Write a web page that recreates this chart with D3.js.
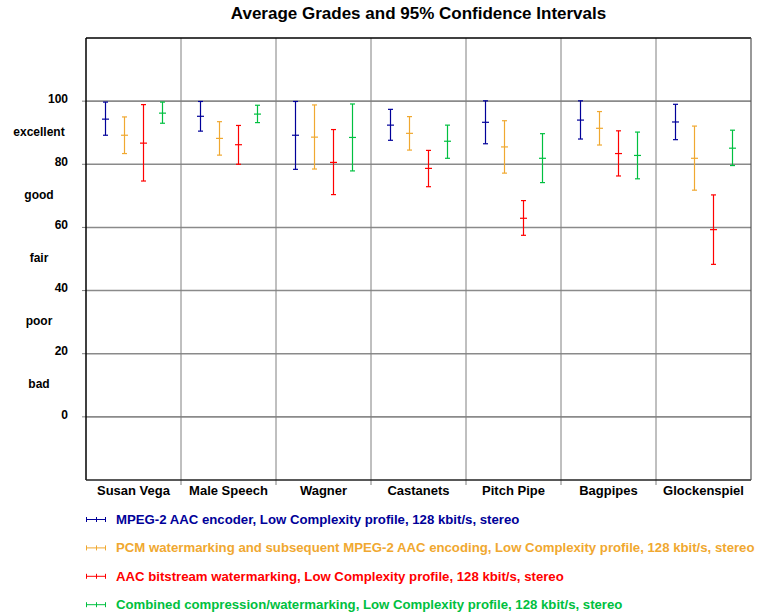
<!DOCTYPE html>
<html><head><meta charset="utf-8">
<script src="https://cdn.jsdelivr.net/npm/d3@7"></script>
<style>body{margin:0;background:#fff;} svg{display:block;}</style>
</head><body>
<svg id="c" width="760" height="612"></svg>
<script>
const categories = ["Susan Vega","Male Speech","Wagner","Castanets","Pitch Pipe","Bagpipes","Glockenspiel"];
const seriesNames = [
  "MPEG-2 AAC encoder, Low Complexity profile, 128 kbit/s, stereo",
  "PCM watermarking and subsequent MPEG-2 AAC encoding, Low Complexity profile, 128 kbit/s, stereo",
  "AAC bitstream watermarking, Low Complexity profile, 128 kbit/s, stereo",
  "Combined compression/watermarking, Low Complexity profile, 128 kbit/s, stereo"
];
const seriesColors = ["#000099","#F0A830","#FF0000","#00C040"];
// [low, mean, high] per category
const aacEncoder = [[89.2,94.3,99.7],[90.5,95.2,99.9],[78.4,89.2,99.9],[87.6,92.4,97.4],[86.5,93.3,100.1],[88.0,94.0,100.1],[87.8,93.4,99.0]];
const pcmWatermark = [[83.4,89.2,95.0],[82.9,88.2,93.5],[78.5,88.6,98.8],[84.5,89.8,95.1],[77.2,85.5,93.8],[86.1,91.4,96.7],[71.8,81.9,92.1]];
const bitstreamWatermark = [[74.7,86.7,98.9],[80.0,86.2,92.3],[70.4,80.6,91.0],[72.9,78.7,84.4],[57.5,62.9,68.5],[76.3,83.4,90.6],[48.3,59.3,70.3]];
const combined = [[93.0,96.2,99.7],[93.2,95.9,98.7],[77.9,88.5,99.1],[81.9,87.3,92.4],[74.2,81.9,89.7],[75.4,82.8,90.2],[79.6,85.1,90.8]];
const yTicks = [0,20,40,60,80,100];
const qualityLabels = [["bad",10],["poor",30],["fair",50],["good",70],["excellent",90]];
const title = "Average Grades and 95% Confidence Intervals";

const series = [aacEncoder,pcmWatermark,bitstreamWatermark,combined];
const svg = d3.select("#c");
const L=86,R=751,T=38,B=480;
const x = d3.scaleBand().domain(categories).range([L,R]).paddingInner(0).paddingOuter(0);
const y = d3.scaleLinear().domain([-20,120]).range([B,T]);
const sub = d3.scalePoint().domain(d3.range(series.length)).range([0,x.bandwidth()]).padding(1);
const font = "'Liberation Sans', Arial, sans-serif";

svg.append("text").attr("x",(L+R)/2).attr("y",15).attr("text-anchor","middle")
  .attr("dominant-baseline","middle").style("font-family",font).style("font-weight","bold").style("font-size","17px")
  .text(title);

// horizontal grid
svg.append("g").selectAll("line").data(yTicks).join("line")
  .attr("x1",L).attr("x2",R).attr("y1",d=>y(d)).attr("y2",d=>y(d))
  .attr("stroke","#8a8a8a").attr("stroke-width",1.6);
// vertical grid
svg.append("g").selectAll("line").data(categories.slice(1)).join("line")
  .attr("x1",d=>x(d)).attr("x2",d=>x(d)).attr("y1",T).attr("y2",B)
  .attr("stroke","#808080").attr("stroke-width",1);
// bottom ticks
svg.append("g").selectAll("line").data(categories.slice(1)).join("line")
  .attr("x1",d=>x(d)).attr("x2",d=>x(d)).attr("y1",B).attr("y2",B+5)
  .attr("stroke","#808080").attr("stroke-width",1);
// left ticks
svg.append("g").selectAll("line").data(yTicks).join("line")
  .attr("x1",L-4).attr("x2",L).attr("y1",d=>y(d)).attr("y2",d=>y(d))
  .attr("stroke","#808080").attr("stroke-width",1);
// border
svg.append("line").attr("x1",L).attr("x2",R).attr("y1",T).attr("y2",T).attr("stroke","#000").attr("stroke-width",1.5);
svg.append("line").attr("x1",L).attr("x2",L).attr("y1",T).attr("y2",B).attr("stroke","#000").attr("stroke-width",1.5);
svg.append("line").attr("x1",L).attr("x2",R).attr("y1",B).attr("y2",B).attr("stroke","#222").attr("stroke-width",1.5);
svg.append("line").attr("x1",R).attr("x2",R).attr("y1",T).attr("y2",B).attr("stroke","#555").attr("stroke-width",1.2);

// y tick labels
svg.append("g").selectAll("text").data(yTicks).join("text")
  .attr("x",68).attr("y",d=>y(d)-1.5).attr("text-anchor","end").attr("dominant-baseline","middle")
  .style("font-family",font).style("font-weight","bold").style("font-size","12px").text(d=>d);
svg.append("g").selectAll("text").data(qualityLabels).join("text")
  .attr("x",39).attr("y",d=>y(d[1])).attr("text-anchor","middle").attr("dominant-baseline","middle")
  .style("font-family",font).style("font-weight","bold").style("font-size","12px").text(d=>d[0]);

// category labels
svg.append("g").selectAll("text").data(categories).join("text")
  .attr("x",d=>x(d)+x.bandwidth()/2).attr("y",495).attr("text-anchor","middle")
  .style("font-family",font).style("font-weight","bold").style("font-size","13px").text(d=>d);

// error bars
series.forEach((s,si)=>{
  const g = svg.append("g").attr("stroke",seriesColors[si]).attr("stroke-width",1.2).attr("fill","none");
  s.forEach((v,ci)=>{
    const cx = Math.round(x(categories[ci])+sub(si))+0.5;
    g.append("line").attr("x1",cx).attr("x2",cx).attr("y1",y(v[0])).attr("y2",y(v[2]));
    g.append("line").attr("x1",cx-2.5).attr("x2",cx+2.5).attr("y1",y(v[0])).attr("y2",y(v[0]));
    g.append("line").attr("x1",cx-2.5).attr("x2",cx+2.5).attr("y1",y(v[2])).attr("y2",y(v[2]));
    g.append("line").attr("x1",cx-3.5).attr("x2",cx+3.5).attr("y1",y(v[1])).attr("y2",y(v[1]));
  });
});

// legend
const lg = svg.append("g");
seriesNames.forEach((n,i)=>{
  const ly = 519.5 + i*28.4;
  const g = lg.append("g").attr("stroke",seriesColors[i]).attr("stroke-width",1);
  g.append("line").attr("x1",86).attr("x2",106).attr("y1",ly).attr("y2",ly);
  g.append("line").attr("x1",86.5).attr("x2",86.5).attr("y1",ly-2.5).attr("y2",ly+2.5);
  g.append("line").attr("x1",105.5).attr("x2",105.5).attr("y1",ly-2.5).attr("y2",ly+2.5);
  g.append("line").attr("x1",96.5).attr("x2",96.5).attr("y1",ly-2.5).attr("y2",ly+2.5);
  lg.append("text").attr("x",116).attr("y",ly+4.5)
    .attr("fill",seriesColors[i]).style("font-family",font).style("font-weight","bold").style("font-size","13.2px").text(n);
});
</script>
</body></html>
